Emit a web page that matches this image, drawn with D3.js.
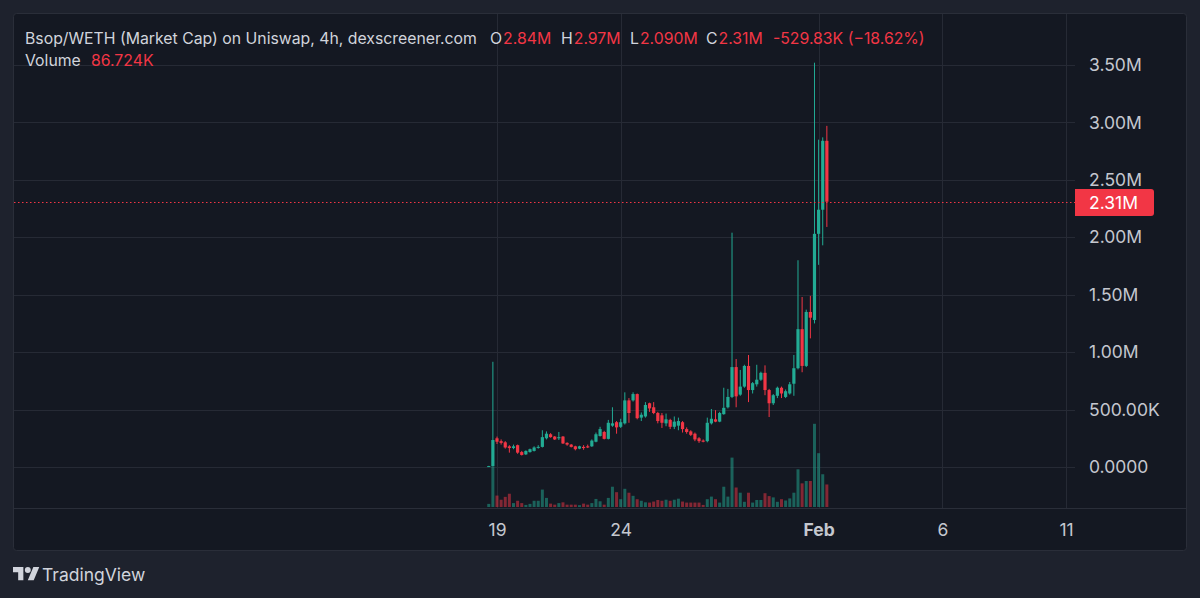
<!DOCTYPE html>
<html>
<head>
<meta charset="utf-8">
<script src="https://cdn.jsdelivr.net/npm/d3@7"></script>
<style>
  html, body { margin: 0; padding: 0; background: #1e222d; }
  svg { display: block; font-family: Inter, "Noto Sans", sans-serif; }
</style>
</head>
<body>
<svg id="chart" width="1200" height="598"></svg>
<script>
// 4h candles of the market cap, values in K (first candle 18 Jan 16:00 UTC)
var firstCandle = Date.UTC(2025, 0, 18, 16);
var opens  = [2, 8, 250, 225, 215, 180, 165, 190, 130, 110, 130, 140, 170, 175, 250, 285, 265, 250, 265, 210,
              195, 180, 160, 175, 180, 180, 220, 270, 305, 245, 360, 390, 350, 380, 580, 580, 635, 430, 440, 555,
              520, 470, 450, 380, 410, 350, 360, 390, 330, 310, 290, 250, 230, 225, 380, 415, 395, 460, 520, 610,
              870, 630, 700, 880, 670, 720, 760, 820, 670, 555, 620, 690, 610, 640, 725, 860, 1200, 880, 1350, 1280,
              2030, 2240, 2840];
var highs  = [10, 916, 265, 240, 225, 190, 195, 195, 140, 145, 160, 180, 190, 320, 310, 295, 270, 305, 270, 215,
              200, 185, 185, 190, 195, 240, 300, 350, 315, 410, 520, 400, 420, 650, 600, 650, 640, 475, 565, 560,
              565, 480, 470, 465, 420, 440, 430, 400, 345, 320, 300, 260, 240, 430, 505, 495, 480, 690, 680, 2040,
              940, 845, 890, 975, 740, 890, 830, 885, 680, 635, 700, 700, 675, 740, 975, 1800, 1480, 1370, 1490, 3520,
              2850, 2870, 2970];
var lows   = [1, 5, 200, 195, 160, 125, 155, 115, 100, 105, 125, 135, 160, 170, 240, 255, 235, 235, 200, 185,
              170, 145, 155, 150, 165, 175, 215, 265, 240, 240, 350, 290, 340, 370, 385, 570, 415, 400, 430, 480,
              460, 380, 340, 355, 330, 330, 320, 300, 290, 270, 225, 210, 215, 215, 370, 390, 390, 455, 510, 600,
              520, 620, 690, 565, 640, 700, 750, 625, 435, 540, 600, 600, 600, 630, 620, 850, 825, 870, 1120, 1250,
              1760, 1930, 2090];
var closes = [8, 235, 220, 210, 170, 165, 180, 125, 105, 140, 155, 170, 175, 260, 290, 260, 240, 260, 205, 195,
              175, 155, 180, 165, 170, 230, 285, 330, 245, 385, 380, 345, 390, 580, 470, 635, 425, 455, 540, 510,
              470, 400, 385, 415, 350, 395, 400, 330, 305, 280, 240, 225, 220, 385, 420, 395, 470, 515, 610, 870,
              615, 700, 880, 670, 730, 760, 820, 670, 555, 625, 690, 640, 660, 720, 860, 1200, 880, 1350, 1300, 2030,
              2240, 2840, 2310];
var volumes = [12, 156, 44, 28, 39, 51, 15, 24, 15, 8, 12, 24, 24, 67, 35, 13, 9, 15, 18, 9,
               9, 9, 7, 13, 9, 15, 31, 22, 9, 35, 78, 57, 30, 70, 55, 43, 30, 24, 18, 17,
               21, 27, 24, 28, 24, 28, 32, 21, 17, 17, 17, 17, 8, 30, 40, 30, 17, 78, 40, 190,
               75, 55, 20, 55, 17, 27, 27, 53, 42, 37, 20, 30, 25, 33, 55, 145, 91, 100, 100, 320,
               207, 126, 86.724];

var priceTicks = [0, 500, 1000, 1500, 2000, 2500, 3000, 3500];
var priceTickLabels = ["0.0000", "500.00K", "1.00M", "1.50M", "2.00M", "2.50M", "3.00M", "3.50M"];
var timeTicks = [Date.UTC(2025, 0, 19), Date.UTC(2025, 0, 24), Date.UTC(2025, 1, 1), Date.UTC(2025, 1, 6), Date.UTC(2025, 1, 11)];
var timeTickLabels = ["19", "24", "Feb", "6", "11"];
var lastPrice = 2310;

var upColor = "#22ab94", downColor = "#f23645";
var gridColor = "#262a35", textColor = "#c4c7cf";

// pane box
var paneLeft = 13, paneTop = 13, paneRight = 1186, paneBottom = 550, plotRight = 1075, timeTop = 508;

var data = opens.map(function(o, i) {
  return { t: new Date(firstCandle + i * 4 * 3600 * 1000), o: o, h: highs[i], l: lows[i], c: closes[i], v: volumes[i] };
});

var svg = d3.select("#chart");

var x = d3.scaleUtc()
    .domain([new Date(timeTicks[0]), new Date(timeTicks[4])])
    .range([497, 1066]);
var y = d3.scaleLinear().domain([0, 3500]).range([467, 65]);
var yVol = d3.scaleLinear().domain([0, 400]).range([507, 403]);

function drawFrame() {
  svg.append("rect")
      .attr("x", paneLeft + 0.5).attr("y", paneTop + 0.5)
      .attr("width", paneRight - paneLeft).attr("height", paneBottom - paneTop)
      .attr("rx", 3)
      .attr("fill", "#141822")
      .attr("stroke", "#2a2e39");

  svg.append("defs").append("clipPath").attr("id", "plot")
    .append("rect")
      .attr("x", paneLeft + 1).attr("y", paneTop + 1)
      .attr("width", plotRight - paneLeft - 1).attr("height", timeTop - paneTop - 1);
}

//grid lines for price and time ticks
function drawGrid() {
  var g = svg.append("g").attr("class", "grid");
  g.selectAll(".hgrid")
      .data(priceTicks)
      .enter().append("line")
      .attr("x1", paneLeft + 1).attr("x2", plotRight)
      .attr("y1", function(d) { return Math.round(y(d)) + 0.5; })
      .attr("y2", function(d) { return Math.round(y(d)) + 0.5; })
      .attr("stroke", gridColor);
  g.selectAll(".vgrid")
      .data(timeTicks)
      .enter().append("line")
      .attr("x1", function(d) { return Math.round(x(d)) + 0.5; })
      .attr("x2", function(d) { return Math.round(x(d)) + 0.5; })
      .attr("y1", paneTop + 1).attr("y2", timeTop)
      .attr("stroke", gridColor);
  svg.append("line")
      .attr("x1", paneLeft + 1).attr("x2", paneRight)
      .attr("y1", timeTop + 0.5).attr("y2", timeTop + 0.5)
      .attr("stroke", "#2a2e39");
}

function drawAxes() {
  var yAxis = d3.axisRight(y)
      .tickValues(priceTicks)
      .tickFormat(function(d, i) { return priceTickLabels[i]; })
      .tickSize(0)
      .tickPadding(14);
  svg.append("g")
      .attr("class", "y axis")
      .attr("transform", "translate(" + plotRight + ",0)")
      .call(yAxis)
      .call(function(g) { g.select(".domain").remove(); })
      .selectAll("text")
      .attr("fill", textColor)
      .style("font-size", "17.5px")
      .style("font-family", "Inter, sans-serif");

  var xAxis = d3.axisBottom(x)
      .tickValues(timeTicks.map(function(t) { return new Date(t); }))
      .tickFormat(function(d, i) { return timeTickLabels[i]; })
      .tickSize(0)
      .tickPadding(16);
  svg.append("g")
      .attr("class", "x axis")
      .attr("transform", "translate(0," + timeTop + ")")
      .call(xAxis)
      .call(function(g) { g.select(".domain").remove(); })
      .selectAll("text")
      .attr("fill", textColor)
      .style("font-size", "17.5px")
      .style("font-family", "Inter, sans-serif")
      .style("font-weight", function(d, i) { return timeTickLabels[i] == "Feb" ? 700 : 400; });
}

//volume bars under the candles
function drawVolume(g) {
  g.selectAll(".vol")
      .data(data)
      .enter().append("rect")
      .attr("class", "vol")
      .attr("x", function(d) { return x(d.t) - 1.5; })
      .attr("width", 3)
      .attr("y", function(d) { return yVol(d.v); })
      .attr("height", function(d) { return yVol(0) - yVol(d.v); })
      .attr("fill", function(d) { return d.c >= d.o ? upColor : downColor; })
      .attr("opacity", 0.5);
}

function drawCandles(g) {
  var c = g.selectAll(".candle")
      .data(data)
      .enter().append("g")
      .attr("class", "candle")
      .attr("fill", function(d) { return d.c >= d.o ? upColor : downColor; })
      .attr("stroke", function(d) { return d.c >= d.o ? upColor : downColor; });
  c.append("line")
      .attr("x1", function(d) { return x(d.t); })
      .attr("x2", function(d) { return x(d.t); })
      .attr("y1", function(d) { return y(d.h); })
      .attr("y2", function(d) { return y(d.l); })
      .attr("stroke-width", 1);
  c.append("rect")
      .attr("stroke", "none")
      .attr("x", function(d) { return x(d.t) - 1.6; })
      .attr("width", 3.2)
      .attr("y", function(d) { return y(Math.max(d.o, d.c)); })
      .attr("height", function(d) { return Math.max(1, Math.abs(y(d.o) - y(d.c))); });
}

//dotted line + red tag for the last price
function drawLastPrice() {
  var py = Math.round(y(lastPrice)) + 0.5;
  svg.append("line")
      .attr("x1", paneLeft + 1).attr("x2", plotRight)
      .attr("y1", py).attr("y2", py)
      .attr("stroke", downColor)
      .attr("stroke-dasharray", "1.5,2.5");
  var h = 27, w = 79;
  svg.append("path")
      .attr("d", "M" + plotRight + "," + (py - h / 2) + "h" + (w - 3) + "q3,0 3,3v" + (h - 6) + "q0,3 -3,3h" + (-(w - 3)) + "z")
      .attr("fill", downColor);
  svg.append("text")
      .attr("x", plotRight + 14).attr("y", py + 6.5)
      .attr("fill", "#ffffff")
      .style("font-size", "17.5px")
      .text("2.31M");
}

function drawHeader() {
  var t = svg.append("text").attr("y", 44).style("font-size", "15.8px");
  t.append("tspan").attr("x", 25).attr("fill", "#d1d4dc").text("Bsop/WETH (Market Cap) on Uniswap, 4h, dexscreener.com");
  var parts = [["O", "2.84M", 490], ["H", "2.97M", 561], ["L", "2.090M", 630], ["C", "2.31M", 706]];
  parts.forEach(function(p) {
    t.append("tspan").attr("x", p[2]).attr("fill", "#d1d4dc").text(p[0]);
    t.append("tspan").attr("dx", 1).attr("fill", downColor).text(p[1]);
  });
  t.append("tspan").attr("x", 773).attr("fill", downColor).text("-529.83K (\u221218.62%)");

  var v = svg.append("text").attr("y", 66).style("font-size", "15.8px");
  v.append("tspan").attr("x", 25).attr("fill", "#d1d4dc").text("Volume");
  v.append("tspan").attr("x", 91).attr("fill", downColor).text("86.724K");
}

function drawLogo() {
  var g = svg.append("g")
      .attr("transform", "translate(13,564) scale(0.74)")
      .attr("fill", "#d1d4dc");
  g.append("path").attr("d", "M14 22H7V11H0V4h14v18zM28 22h-8l7.5-18h8L28 22z");
  g.append("circle").attr("cx", 20).attr("cy", 8).attr("r", 4);
  svg.append("text")
      .attr("x", 42).attr("y", 581)
      .attr("fill", "#d1d4dc")
      .style("font-size", "17.5px")
      .text("TradingView");
}

drawFrame();
drawGrid();
var plot = svg.append("g").attr("clip-path", "url(#plot)");
drawVolume(plot);
drawCandles(plot);
drawAxes();
drawLastPrice();
drawHeader();
drawLogo();
</script>
</body>
</html>
